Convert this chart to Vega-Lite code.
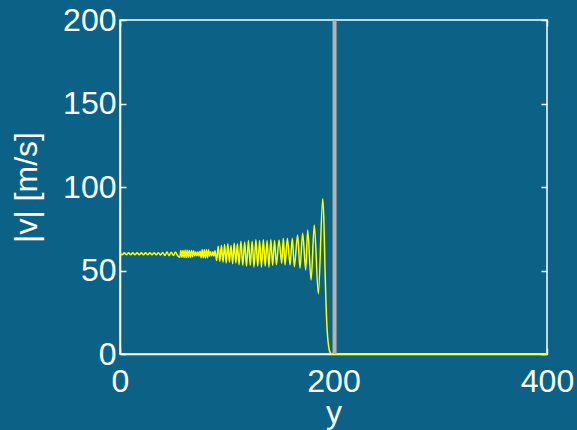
{
  "$schema": "https://vega.github.io/schema/vega-lite/v6.json",
  "width": 427,
  "height": 334,
  "autosize": "none",
  "padding": {"left": 120, "top": 20, "right": 30, "bottom": 76},
  "background": "#0b6286",
  "config": {
    "view": {"stroke": "#ffffff", "strokeWidth": 1.5},
    "axis": {
      "domainColor": "#ffffff", "domainWidth": 1.5,
      "tickColor": "#ffffff", "tickWidth": 1.5, "tickSize": -6,
      "grid": false,
      "labelColor": "#ffffff", "labelFont": "Liberation Sans", "labelFontSize": 32,
      "titleColor": "#ffffff", "titleFont": "Liberation Sans", "titleFontSize": 32, "titleFontWeight": "normal"
    }
  },
  "resolve": {"axis": {"x": "independent", "y": "independent"}},
  "layer": [
    {
      "data": {"values": [
        {"x":0,"v":60.6},{"x":2,"v":59.4},{"x":4,"v":60.6},{"x":6,"v":59.4},{"x":8,"v":60.6},{"x":10,"v":59.4},{"x":12,"v":60.6},{"x":14,"v":59.4},{"x":16,"v":60.6},{"x":18,"v":59.4},{"x":20,"v":60.6},{"x":22,"v":59.4},{"x":24,"v":60.6},{"x":26,"v":59.4},{"x":28,"v":60.6},{"x":30,"v":59.4},{"x":32,"v":60.6},{"x":34,"v":59.4},{"x":36,"v":60.7},{"x":38,"v":59.3},{"x":40,"v":60.8},
        {"x":42,"v":59.0},{"x":44,"v":61.1},{"x":46,"v":58.9},{"x":48,"v":61.0},{"x":50,"v":59.0},{"x":52,"v":61.1},{"x":54,"v":58.8},
        {"x":56,"v":58.0},{"x":57,"v":62.0},{"x":58,"v":58.0},{"x":59,"v":62.0},{"x":60,"v":57.8},{"x":61,"v":62.2},{"x":62,"v":57.8},{"x":63,"v":62.2},{"x":64,"v":58.0},{"x":65,"v":62.0},{"x":66,"v":58.0},{"x":67,"v":62.0},{"x":68,"v":58.2},{"x":69,"v":61.8},{"x":70,"v":58.8},
        {"x":71,"v":61.2},{"x":72,"v":58.8},{"x":73,"v":61.2},{"x":74,"v":58.6},{"x":75,"v":61.6},{"x":76,"v":57.6},{"x":77,"v":62.4},{"x":78,"v":57.6},{"x":79,"v":62.4},{"x":80,"v":57.5},{"x":81,"v":62.5},{"x":82,"v":57.6},{"x":83,"v":62.4},{"x":84,"v":58.5},{"x":85,"v":61.3},{"x":86,"v":58.7},{"x":87,"v":61.3},{"x":88,"v":58.6},{"x":89,"v":61.8},
        {"x":90.5,"v":56.0},{"x":92,"v":64.5},{"x":93.5,"v":55.5},{"x":95,"v":65.0},{"x":96.5,"v":55.0},{"x":98,"v":65.5},{"x":99.5,"v":54.5},{"x":101,"v":66.0},{"x":102.5,"v":55.0},{"x":104,"v":65.0},{"x":105.5,"v":54.0},{"x":107,"v":66.5},{"x":108.5,"v":54.5},{"x":110,"v":66.0},{"x":111.5,"v":53.5},
        {"x":113.3,"v":67.5},{"x":115,"v":53.0},{"x":116.8,"v":67.0},{"x":118.5,"v":52.5},{"x":120.3,"v":68.0},{"x":122,"v":53.0},{"x":123.8,"v":67.5},{"x":125.5,"v":52.0},{"x":127.3,"v":68.5},{"x":129,"v":52.5},{"x":130.8,"v":68.0},{"x":132.5,"v":52.0},{"x":134.3,"v":68.5},{"x":136,"v":52.5},{"x":137.8,"v":68.0},{"x":139.5,"v":52.0},{"x":141.3,"v":68.5},{"x":143,"v":53.0},{"x":144.8,"v":68.0},{"x":146.5,"v":53.5},
        {"x":149,"v":68.3},{"x":151.5,"v":54.3},{"x":153,"v":69.3},{"x":154.6,"v":53.3},{"x":156.8,"v":69.3},{"x":159.3,"v":53.3},{"x":161.4,"v":69.3},{"x":163.3,"v":52.3},{"x":166.4,"v":71.3},{"x":168.6,"v":51.3},{"x":171.1,"v":72.3},{"x":174,"v":50.3},{"x":175.8,"v":74.3},{"x":179,"v":44.3},{"x":182,"v":77.2},{"x":185.8,"v":36},{"x":189.9,"v":93},
        {"x":191,"v":80},{"x":192,"v":52},{"x":193,"v":30},{"x":194,"v":15},{"x":195,"v":7},{"x":196,"v":2.5},{"x":197,"v":0.8},{"x":198,"v":0.2},{"x":200,"v":0},{"x":400,"v":0}
      ]},
      "mark": {"type": "line", "color": "#ffff00", "strokeWidth": 1.5, "interpolate": "monotone"},
      "encoding": {
        "x": {"field": "x", "type": "quantitative", "scale": {"domain": [0, 400], "nice": false},
              "axis": {"values": [0, 200, 400], "title": "y", "labelPadding": 18, "titlePadding": 0, "labelFlush": false}},
        "y": {"field": "v", "type": "quantitative", "scale": {"domain": [0, 200], "nice": false},
              "axis": {"values": [0, 50, 100, 150, 200], "title": "|v| [m/s]", "labelPadding": 10, "titlePadding": 19}}
      }
    },
    {
      "data": {"values": [{"x": 201}]},
      "mark": {"type": "rule", "color": "#b3b3b3", "strokeWidth": 4},
      "encoding": {
        "x": {"field": "x", "type": "quantitative", "scale": {"domain": [0, 400], "nice": false},
              "axis": {"orient": "top", "values": [0, 200, 400], "labels": false, "title": null, "domain": false}},
        "y": {"datum": 0, "type": "quantitative", "scale": {"domain": [0, 200], "nice": false},
              "axis": {"orient": "right", "values": [0, 50, 100, 150, 200], "labels": false, "title": null, "domain": false}},
        "y2": {"datum": 200}
      }
    }
  ]
}
